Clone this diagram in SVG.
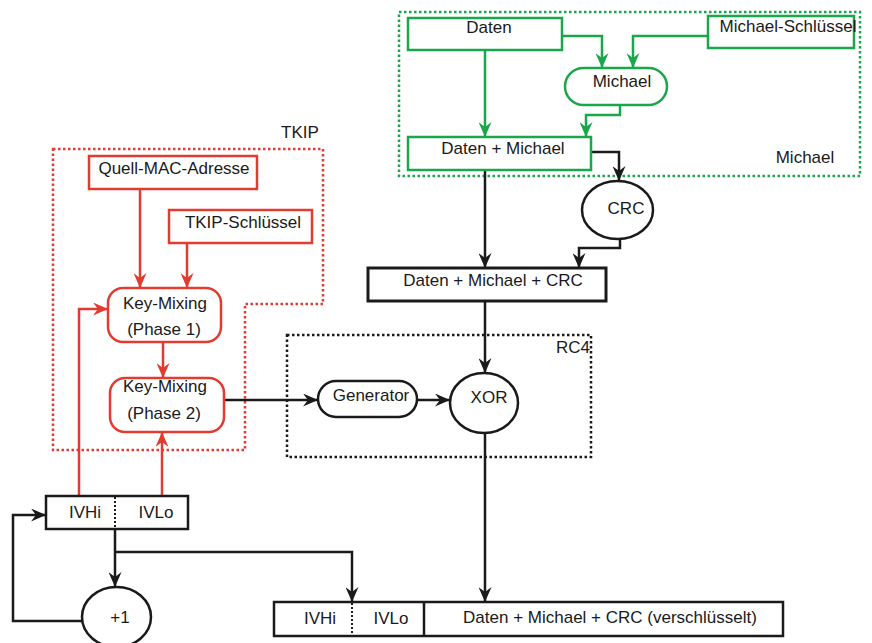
<svg xmlns="http://www.w3.org/2000/svg" width="872" height="643" viewBox="0 0 872 643">
<style>
text{font-family:"Liberation Sans",Arial,sans-serif;font-size:17px;fill:#1a1a1a;text-anchor:middle}
.g{fill:#fff;stroke:#1aa64a;stroke-width:2.5}
.r{fill:#fff;stroke:#e23b30;stroke-width:2.5}
.k{fill:#fff;stroke:#1a1a1a;stroke-width:2.5}
.dot{fill:none;stroke-width:2.5;stroke-dasharray:2.5 2.5}
.cg{fill:none;stroke:#1aa64a;stroke-width:2.5}
.cr{fill:none;stroke:#e23b30;stroke-width:2.5}
.ck{fill:none;stroke:#1a1a1a;stroke-width:2.5}
</style>
<defs>
<marker id="ag" viewBox="-15 -6.5 15 13" refX="0" refY="0" markerWidth="15" markerHeight="13" markerUnits="userSpaceOnUse" orient="auto"><path d="M0,0 L-15,-6.5 L-10,0 L-15,6.5 Z" fill="#1aa64a"/></marker>
<marker id="ar" viewBox="-15 -6.5 15 13" refX="0" refY="0" markerWidth="15" markerHeight="13" markerUnits="userSpaceOnUse" orient="auto"><path d="M0,0 L-15,-6.5 L-10,0 L-15,6.5 Z" fill="#e23b30"/></marker>
<marker id="ak" viewBox="-15 -6.5 15 13" refX="0" refY="0" markerWidth="15" markerHeight="13" markerUnits="userSpaceOnUse" orient="auto"><path d="M0,0 L-15,-6.5 L-10,0 L-15,6.5 Z" fill="#1a1a1a"/></marker>
</defs>
<rect width="872" height="643" fill="#fff"/>
<g id="group-michael">
<path class="dot" stroke="#1aa64a" d="M399,12 H860 V176 H399 Z"/>
<text x="805" y="163">Michael</text>
</g>
<g id="group-tkip">
<path class="dot" stroke="#e23b30" d="M53,149 H323 V304 H245 V450 H53 Z"/>
<text x="300" y="138">TKIP</text>
</g>
<g id="group-rc4">
<path class="dot" stroke="#1a1a1a" d="M287,335 H591 V457 H287 Z"/>
<text x="573" y="353">RC4</text>
</g>
<g id="connectors">
<path class="cg" marker-end="url(#ag)" d="M562,36 H602 V68"/>
<path class="cg" marker-end="url(#ag)" d="M708,36 H633 V68"/>
<path class="cg" marker-end="url(#ag)" d="M485,50 V137"/>
<path class="cg" marker-end="url(#ag)" d="M620,105 V115 H586 V137"/>
<path class="ck" marker-end="url(#ak)" d="M591,152 H619 V181"/>
<path class="ck" marker-end="url(#ak)" d="M485,170 V268"/>
<path class="ck" marker-end="url(#ak)" d="M620,239 V248 H579 V268"/>
<path class="ck" marker-end="url(#ak)" d="M485,301 V373"/>
<path class="ck" marker-end="url(#ak)" d="M417,400 H450"/>
<path class="ck" marker-end="url(#ak)" d="M224,400 H318"/>
<path class="ck" marker-end="url(#ak)" d="M485,433 V602"/>
<path class="ck" marker-end="url(#ak)" d="M115,529 V587"/>
<path class="ck" marker-end="url(#ak)" d="M115,552 H352 V602"/>
<path class="ck" marker-end="url(#ak)" d="M82,621 H13 V515 H46"/>
<path class="cr" marker-end="url(#ar)" d="M140,189 V288"/>
<path class="cr" marker-end="url(#ar)" d="M187,243 V288"/>
<path class="cr" marker-end="url(#ar)" d="M163,342 V378"/>
<path class="cr" marker-end="url(#ar)" d="M79,496 V309 H108"/>
<path class="cr" marker-end="url(#ar)" d="M162,496 V432"/>
</g>
<g id="daten"><rect class="g" x="408" y="18" width="154" height="32"/><text x="489" y="33">Daten</text></g>
<g id="michael-schluessel"><rect class="g" x="708" y="16" width="146" height="32"/><text x="788" y="32">Michael-Schlüssel</text></g>
<g id="michael"><rect class="g" x="565" y="68" width="102" height="37" rx="18.5"/><text x="622" y="87">Michael</text></g>
<g id="daten-michael"><rect class="g" x="408" y="137" width="183" height="33"/><text x="503" y="154">Daten + Michael</text></g>
<g id="crc"><ellipse class="k" cx="617.5" cy="210" rx="35.5" ry="29"/><text x="626" y="214">CRC</text></g>
<g id="daten-michael-crc"><rect class="k" style="stroke-width:3" x="368" y="268" width="238" height="33"/><text x="493" y="286">Daten + Michael + CRC</text></g>
<g id="generator"><rect class="k" x="318" y="381" width="99" height="36" rx="18"/><text x="371" y="401">Generator</text></g>
<g id="xor"><ellipse class="k" cx="484" cy="403" rx="34" ry="30"/><text x="489" y="403">XOR</text></g>
<g id="quell-mac"><rect class="r" x="89" y="156" width="168" height="33"/><text x="174" y="174">Quell-MAC-Adresse</text></g>
<g id="tkip-schluessel"><rect class="r" x="169" y="210" width="143" height="33"/><text x="243" y="228">TKIP-Schlüssel</text></g>
<g id="key-mixing-1"><rect class="r" x="108" y="288" width="113" height="54" rx="15"/><text x="165" y="309">Key-Mixing</text><text x="164" y="335">(Phase 1)</text></g>
<g id="key-mixing-2"><rect class="r" x="110" y="378" width="114" height="54" rx="15"/><text x="165" y="392">Key-Mixing</text><text x="164" y="419">(Phase 2)</text></g>
<g id="iv"><rect class="k" x="46" y="496" width="142" height="33"/><line x1="115" y1="497" x2="115" y2="528" stroke="#1a1a1a" stroke-width="2" stroke-dasharray="2 2"/><text x="85" y="518">IVHi</text><text x="156" y="518">IVLo</text></g>
<g id="plus1"><ellipse class="k" cx="116.5" cy="617" rx="34.5" ry="30"/><text x="120" y="623">+1</text></g>
<g id="output"><rect class="k" x="274" y="602" width="509" height="34"/><line x1="352" y1="603" x2="352" y2="635" stroke="#1a1a1a" stroke-width="2" stroke-dasharray="2 2"/><line x1="424" y1="602" x2="424" y2="636" stroke="#1a1a1a" stroke-width="2.5"/><text x="320" y="624">IVHi</text><text x="391" y="624">IVLo</text><text x="610" y="623">Daten + Michael + CRC (verschlüsselt)</text></g>
</svg>
